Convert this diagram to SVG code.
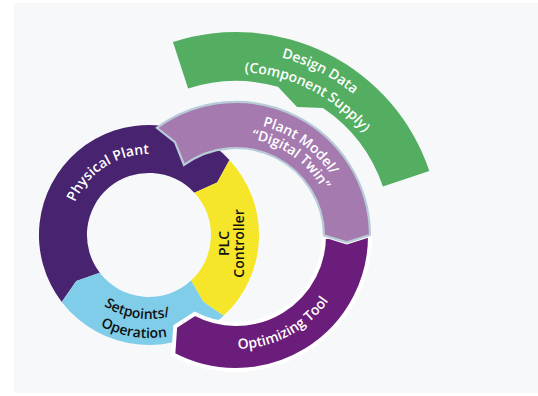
<svg xmlns="http://www.w3.org/2000/svg" xmlns:xlink="http://www.w3.org/1999/xlink" width="538" height="396" viewBox="0 0 538 396">
<defs>
<style>
.t{font-family:"Open Sans","Noto Sans","Liberation Sans",sans-serif;font-weight:600;font-size:14px}
.w{fill:#ffffff}
.k{fill:#111111}
</style>
<path id="pDesign" d="M173.07,63.09 A184,184 0 0 1 412.88,185.28"/>
<path id="pComp" d="M179.91,81.89 A164,164 0 0 1 393.65,190.8"/>
<path id="pPlant1" d="M197.35,129.81 A113,113 0 0 1 348.98,237.97"/>
<path id="pPlant2" d="M202.48,143.91 A98,98 0 0 1 333.99,237.71"/>
<path id="pPhys" d="M68,235 A81,81 0 0 1 181.94,161.0"/>
<path id="pSet" d="M72.87,270.5 A84,84 0 0 0 210.44,292.29"/>
<path id="pOper" d="M55.65,278.53 A103,103 0 0 0 224.33,305.25"/>
<path id="pOpt" d="M179.5,333.86 A113,113 0 0 0 348.72,243.88"/>
</defs>
<rect x="14" y="3" width="524" height="390" fill="#f7f8fa"/>

<g id="physical-plant">
<path d="M61.73,301.97 A110,110 0 0 1 229.45,159.98 L217.14,182.53 L194.35,192.72 A62,62 0 0 0 99.81,272.75 L76.30,280.96 Z" fill="#48236f"/>
<text class="t w"><textPath xlink:href="#pPhys" href="#pPhys" startOffset="50%" text-anchor="middle">Physical Plant</textPath></text>
</g>

<g id="plc-controller">
<path d="M229.45,159.98 A110,110 0 0 1 223.60,315.84 L203.35,301.64 L191.05,280.56 A62,62 0 0 0 194.35,192.72 L217.14,182.53 Z" fill="#f5e629"/>
<text class="t k" transform="translate(229,243.5) rotate(-90)" text-anchor="middle">PLC</text>
<text class="t k" transform="translate(244,243.5) rotate(-90)" text-anchor="middle">Controller</text>
</g>

<g id="setpoints-operation">
<path d="M223.60,315.84 A110,110 0 0 1 61.73,301.97 L76.30,280.96 L99.81,272.75 A62,62 0 0 0 191.05,280.56 L203.35,301.64 Z" fill="#7fcde9"/>
<text class="t k"><textPath xlink:href="#pSet" href="#pSet" startOffset="50%" text-anchor="middle">Setpoints/</textPath></text>
<text class="t k"><textPath xlink:href="#pOper" href="#pOper" startOffset="50%" text-anchor="middle">Operation</textPath></text>
</g>

<g id="optimizing-tool">
<path d="M370.0,235.06 A134,134 0 0 1 173.30,354.43 L175.21,326.47 L194.82,313.77 A88,88 0 0 0 324.0,235.39 L346.82,242.39 Z" fill="#6b1d7b" stroke="#ffffff" stroke-width="4" stroke-linejoin="miter"/>
<text class="t w"><textPath xlink:href="#pOpt" href="#pOpt" startOffset="50%" text-anchor="middle">Optimizing Tool</textPath></text>
</g>

<g id="plant-model">
<path d="M156.86,127.86 A134,134 0 0 1 370.0,235.06 L346.82,242.39 L324.0,235.39 A88,88 0 0 0 184.03,164.98 L175.0,142.07 Z" fill="#a57aaf" stroke="#b8ccd7" stroke-width="2.2" stroke-linejoin="miter"/>
<text class="t w"><textPath xlink:href="#pPlant1" href="#pPlant1" startOffset="50%" text-anchor="middle">Plant Model/</textPath></text>
<text class="t w"><textPath xlink:href="#pPlant2" href="#pPlant2" startOffset="50%" text-anchor="middle">“Digital Twin”</textPath></text>
</g>

<g id="design-data">
<path d="M172.96,41.98 A204,204 0 0 1 429.35,170.92 L382.91,186.55 A155,155 0 0 0 323,108 L297,107 L277.94,86.78 A155,155 0 0 0 188.1,88.58 Z" fill="#53ae62"/>
<text class="t w"><textPath xlink:href="#pDesign" href="#pDesign" startOffset="50%" text-anchor="middle">Design Data</textPath></text>
<text class="t w"><textPath xlink:href="#pComp" href="#pComp" startOffset="50%" text-anchor="middle">(Component Supply)</textPath></text>
</g>
</svg>
